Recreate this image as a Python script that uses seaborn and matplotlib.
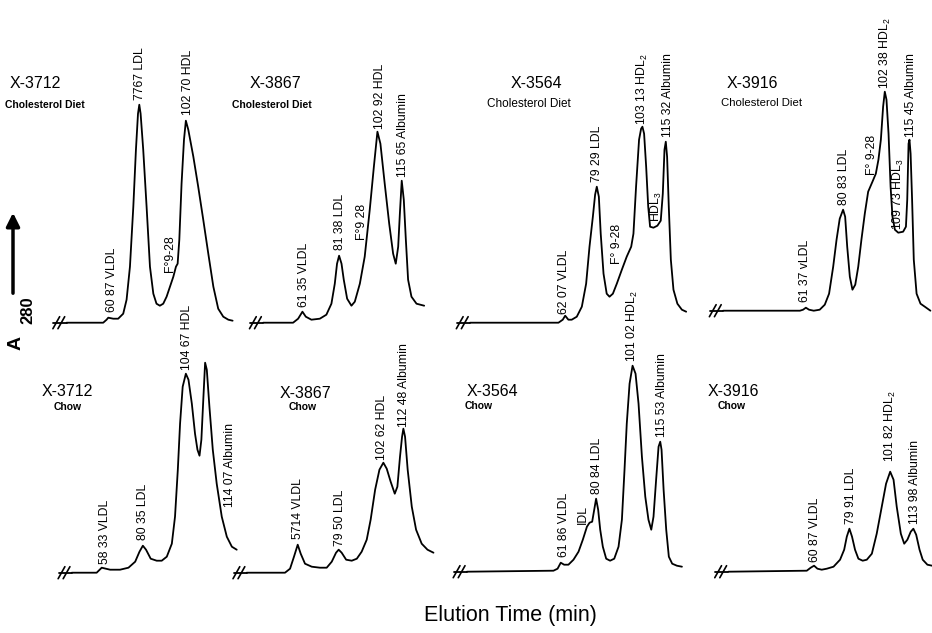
import matplotlib
matplotlib.use("Agg")
import matplotlib.pyplot as plt
import seaborn as sns

# elution time (min) and A280 height (arbitrary units)
chol_3712_t = [38.8, 58.4, 60.2, 61.1, 63.8, 66.4, 69.1, 70.9, 72.7, 74.5, 75.9, 77.0, 77.7, 78.4, 79.8,
               81.6, 83.4, 85.2, 86.9, 88.7, 90.5, 92.3, 94.1, 95.9, 97.3, 98.2, 99.1, 100.3, 101.6, 102.6,
               103.9, 106.6, 109.2, 111.9, 114.6, 117.3, 119.9, 122.6, 125.3, 127.6]
chol_3712_a = [0, 0, 3, 5, 4, 4, 9, 23, 56, 116, 173, 209, 218, 209, 173,
               116, 56, 29, 19, 17, 19, 26, 36, 46, 56, 59, 83, 139, 183, 202,
               193, 166, 136, 103, 69, 36, 14, 6, 3, 2]

chol_3867_t = [41.8, 57.8, 60.5, 62.8, 64.6, 67.6, 72.1, 75.6, 78.3, 80.1, 81.3, 82.4, 83.7, 84.9, 86.7,
               89.0, 90.8, 93.5, 96.1, 98.8, 101.0, 102.9, 104.5, 106.8, 109.2, 111.3, 112.7, 114.0, 114.9,
               115.9, 117.0, 118.1, 119.3, 121.1, 123.8, 127.9]
chol_3867_a = [0, 0, 4, 11, 6, 3, 4, 8, 19, 39, 59, 67, 59, 43, 24,
               17, 21, 39, 66, 113, 156, 191, 179, 139, 99, 69, 59, 76, 109,
               142, 123, 83, 43, 26, 19, 17]

chol_3564_t = [11.5, 58.8, 61.1, 62.4, 64.1, 65.9, 68.6, 71.3, 73.6, 75.4, 77.2, 78.4, 79.3, 80.4, 81.4,
               82.9, 84.6, 86.1, 87.9, 90.0, 92.7, 95.3, 97.7, 98.9, 100.3, 101.9, 103.0, 103.7, 104.6,
               105.7, 106.8, 107.8, 109.6, 111.7, 113.5, 114.6, 115.5, 116.2, 116.9, 117.8, 118.9, 120.3,
               122.4, 124.8, 127.1]
chol_3564_a = [0, 0, 3, 7, 3, 3, 6, 16, 39, 76, 106, 128, 136, 126, 89,
               49, 29, 26, 29, 39, 53, 66, 76, 89, 136, 183, 194, 196, 189,
               156, 116, 96, 95, 97, 102, 129, 173, 181, 166, 116, 63, 33,
               19, 13, 11]

chol_3916_t = [16.6, 57.7, 59.4, 60.9, 62.6, 65.1, 68.3, 71.0, 73.3, 75.5, 77.3, 79.0, 80.8, 81.9, 83.0,
               84.4, 85.8, 87.3, 88.9, 90.6, 92.4, 94.2, 96.5, 98.3, 99.7, 101.0, 102.2, 103.1, 104.0,
               105.1, 106.2, 107.2, 108.5, 110.3, 112.9, 114.4, 115.1, 115.8, 116.3, 116.9, 117.7, 118.6,
               120.1, 122.2, 124.5, 127.5]
chol_3916_a = [0, 0, 1, 3, 1, 0, 1, 6, 17, 44, 71, 92, 101, 94, 64,
               34, 21, 26, 44, 71, 97, 119, 129, 137, 151, 171, 204, 219, 211,
               177, 124, 94, 81, 78, 79, 84, 111, 167, 171, 157, 111, 51,
               17, 7, 4, 0]

chow_3712_t = [42.4, 55.7, 58.4, 62.9, 68.2, 72.7, 76.3, 78.6, 80.4, 82.1, 84.6, 87.8, 90.5, 93.2, 95.9,
               97.6, 99.1, 100.3, 101.7, 103.4, 104.8, 106.6, 108.3, 109.6, 110.7, 111.7, 112.8, 113.7,
               114.6, 116.0, 117.8, 119.9, 122.6, 125.3, 128.0, 130.6]
chow_3712_a = [0, 0, 5, 3, 3, 5, 11, 21, 27, 23, 14, 12, 12, 16, 29,
               56, 103, 149, 186, 199, 193, 169, 139, 123, 117, 133, 176, 210,
               203, 166, 123, 89, 56, 36, 26, 23]

chow_3867_t = [29.5, 50.0, 52.7, 54.8, 56.8, 58.4, 60.7, 64.3, 68.7, 72.3, 75.0, 77.3, 78.7, 80.3, 82.7,
               85.7, 88.4, 91.0, 93.7, 95.8, 98.2, 100.5, 102.6, 104.4, 106.5, 108.7, 110.1, 111.5, 112.6,
               113.3, 114.2, 115.6, 117.8, 120.1, 123.1, 126.2, 129.4]
chow_3867_a = [0, 0, 4, 16, 28, 19, 9, 6, 5, 5, 11, 20, 23, 20, 13,
               12, 14, 21, 33, 53, 83, 103, 110, 104, 91, 79, 86, 116, 136,
               144, 136, 103, 66, 43, 29, 23, 20]

chow_3564_t = [11.7, 58.0, 60.2, 61.9, 63.7, 66.0, 68.7, 71.4, 73.7, 75.9, 77.3, 78.7, 79.8, 80.8, 81.9,
               83.0, 84.4, 86.2, 88.3, 90.5, 92.8, 94.6, 96.0, 97.2, 98.7, 100.3, 101.9, 103.5, 105.3,
               107.1, 108.8, 110.3, 111.5, 112.9, 114.2, 115.1, 115.8, 116.9, 118.3, 119.7, 121.5, 124.0,
               126.7]
chow_3564_a = [0, 1, 3, 9, 7, 7, 12, 20, 32, 45, 49, 50, 62, 73, 62,
               42, 25, 13, 11, 13, 25, 52, 102, 148, 188, 206, 198, 168, 115,
               75, 52, 42, 55, 92, 125, 130, 122, 82, 42, 15, 8, 6,
               5]

chow_3916_t = [15.2, 57.1, 59.2, 61.0, 62.8, 65.1, 67.8, 71.4, 74.9, 77.1, 78.5, 79.9, 81.3, 82.9, 84.7,
               87.0, 89.2, 91.9, 94.5, 97.2, 99.5, 101.7, 103.5, 105.2, 107.4, 109.2, 110.9, 112.7, 114.1,
               115.6, 117.4, 119.1, 121.6, 124.1]
chow_3916_a = [0, 1, 4, 6, 3, 2, 3, 5, 12, 22, 35, 43, 35, 22, 13,
               11, 12, 18, 38, 65, 88, 100, 92, 65, 38, 28, 32, 40, 43,
               37, 22, 12, 7, 6]

# peak labels: (text, time, height where the label starts)
chol_3712_labels = [("60 87 VLDL", 62.9, 11), ("7767 LDL", 78.0, 223), ("F°9-28", 94.1, 51),
                    ("102 70 HDL", 103.9, 208)]
chol_3867_labels = [("61 35 VLDL", 63.5, 16), ("81 38 LDL", 82.8, 73), ("F°9 28", 94.4, 83),
                    ("102 92 HDL", 104.2, 194), ("115 65 Albumin", 116.6, 146)]
chol_3564_labels = [("62 07 VLDL", 61.8, 9), ("79 29 LDL", 79.3, 141), ("F° 9-28", 90.0, 59),
                    ("103 13 HDL$_2$", 103.7, 198), ("HDL$_3$", 111.4, 101),
                    ("115 32 Albumin", 117.3, 186)]
chol_3916_labels = [("61 37 vLDL", 60.3, 9), ("80 83 LDL", 81.2, 106), ("F° 9-28", 96.0, 136),
                    ("102 38 HDL$_2$", 103.5, 222), ("109 73 HDL$_3$", 110.2, 81),
                    ("115 45 Albumin", 116.9, 174)]
chow_3712_labels = [("58 33 VLDL", 60.2, 9), ("80 35 LDL", 80.7, 33), ("104 67 HDL", 103.9, 203),
                    ("114 07 Albumin", 127.1, 66)]
chow_3867_labels = [("5714 VLDL", 57.1, 34), ("79 50 LDL", 79.4, 27), ("102 62 HDL", 101.7, 113),
                    ("112 48 Albumin", 113.7, 146)]
chow_3564_labels = [("61 86 VLDL", 63.4, 15), ("IDL", 73.7, 48), ("80 84 LDL", 81.2, 78),
                    ("101 02 HDL$_2$", 100.5, 210), ("115 53 Albumin", 116.0, 135)]
chow_3916_labels = [("60 87 VLDL", 61.5, 10), ("79 91 LDL", 80.6, 48), ("101 82 HDL$_2$", 102.0, 110),
                    ("113 98 Albumin", 115.0, 48)]

animals = ["X-3712", "X-3867", "X-3564", "X-3916"]

sns.set_style("white")
plt.rcParams['font.family'] = ['Liberation Sans', 'DejaVu Sans']
plt.rcParams['text.color'] = 'black'
plt.rcParams['mathtext.fontset'] = 'custom'
plt.rcParams['mathtext.rm'] = 'Liberation Sans'

W, H = 932, 633
PPM = 1.87  # pixels per minute
fig = plt.figure(figsize=(W / 100, H / 100), dpi=100)


def fx(px):
    return px / W


def fy(py):
    return 1 - py / H


# layout: (t, a, labels, x of t=0 in px, baseline px, title xy, subtitle xy, subtitle, size, weight)
panels = [
    (chol_3712_t, chol_3712_a, chol_3712_labels, -6, 322.7, (35, 84), (45, 105), "Cholesterol Diet", 7.5, "bold"),
    (chol_3867_t, chol_3867_a, chol_3867_labels, 185, 322.7, (275, 84), (272, 105), "Cholesterol Diet", 7.5, "bold"),
    (chol_3564_t, chol_3564_a, chol_3564_labels, 448.5, 322.7, (536, 84), (529, 104), "Cholesterol Diet", 8.5, "normal"),
    (chol_3916_t, chol_3916_a, chol_3916_labels, 692, 310.7, (752, 84), (762, 103), "Cholesterol Diet", 8.2, "normal"),
    (chow_3712_t, chow_3712_a, chow_3712_labels, -7.5, 572.7, (67, 392), (68, 407), "Chow", 7.5, "bold"),
    (chow_3867_t, chow_3867_a, chow_3867_labels, 191.5, 572.7, (305, 393), (303, 407), "Chow", 7.5, "bold"),
    (chow_3564_t, chow_3564_a, chow_3564_labels, 445, 571.7, (492, 392), (479, 406), "Chow", 7.5, "bold"),
    (chow_3916_t, chow_3916_a, chow_3916_labels, 700, 571.7, (733, 392), (732, 406), "Chow", 7.5, "bold"),
]

for i, (t, a, labels, x0, base, txy, sxy, sub, sub_size, sub_weight) in enumerate(panels):
    ax = fig.add_axes([fx(x0), fy(base + 20), 150 * PPM / W, 270 / H])
    sns.lineplot(x=t, y=a, ax=ax, color="black", lw=1.3, estimator=None)
    # axis break mark before the trace
    t0 = t[0]
    ax.plot([t0 - 7, t0], [0, 0], color="black", lw=1.3)
    for tc in (t0 - 5.5, t0 - 2.8):
        ax.plot([tc - 1.8, tc + 1.8], [-6, 6], color="black", lw=1.2)
    for text, tp, hp in labels:
        ax.text(tp, hp, text, rotation=90, ha="center", va="bottom", fontsize=8.8)
    ax.set_xlim(0, 150)
    ax.set_ylim(-20, 250)
    ax.set_axis_off()
    fig.text(fx(txy[0]), fy(txy[1]), animals[i % 4], ha="center", va="center", fontsize=11.5)
    fig.text(fx(sxy[0]), fy(sxy[1]), sub, ha="center", va="center", fontsize=sub_size,
             fontweight=sub_weight)

# y-axis hint
fig.add_artist(matplotlib.patches.FancyArrowPatch(
    (fx(13), fy(296)), (fx(13), fy(210)), transform=fig.transFigure,
    arrowstyle="-|>", mutation_scale=20, lw=2.5, color="black"))
fig.text(fx(16), fy(343), "A", rotation=90, ha="center", va="center", fontsize=14, fontweight="bold")
fig.text(fx(28), fy(310), "280", rotation=90, ha="center", va="center", fontsize=12, fontweight="bold")

fig.text(fx(510), fy(615), "Elution Time (min)", ha="center", va="center", fontsize=15.5)

fig.savefig("out.png", dpi=100)
